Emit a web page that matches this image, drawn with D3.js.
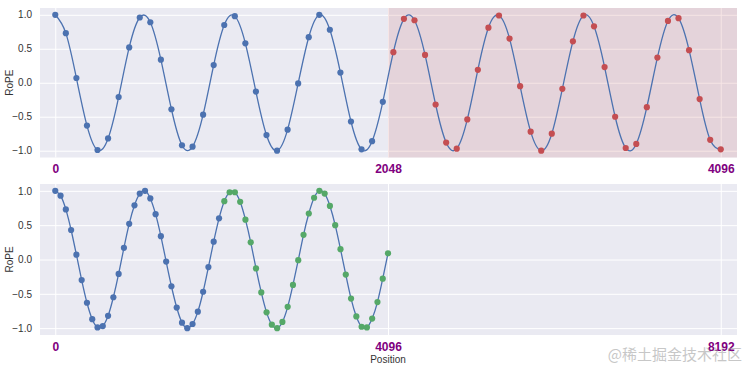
<!DOCTYPE html>
<html>
<head>
<meta charset="utf-8">
<script src="https://cdn.jsdelivr.net/npm/d3@7"></script>
<style>
    body { margin: 0; background: #fff; }
    svg { display: block; font-family: "Liberation Sans", Arial, sans-serif; }
    .grid line { stroke: #fff; stroke-width: 1; }
    .grid path { display: none; }
    .ylab text { fill: #333; font-size: 10px; }
    .xlab text { fill: #800080; font-size: 12px; font-weight: bold; }
</style>
</head>
<body>
<svg width="744" height="368"></svg>
<script>
// positions sampled (64 points between 0 and 4096)
const positions = [0, 65, 130, 195, 260, 325, 390, 455, 520, 585, 650, 715, 780, 845, 910, 975,
    1040, 1105, 1170, 1235, 1300, 1365, 1430, 1495, 1560, 1625, 1690, 1755, 1820, 1885, 1950, 2016,
    2081, 2146, 2211, 2276, 2341, 2406, 2471, 2536, 2601, 2666, 2731, 2796, 2861, 2926, 2991, 3056,
    3121, 3186, 3251, 3316, 3381, 3446, 3511, 3576, 3641, 3706, 3771, 3836, 3901, 3966, 4031, 4096];

// RoPE values, top panel (extrapolation)
const ropeTop = [1.00, 0.73, 0.07, -0.63, -0.99, -0.82, -0.21, 0.52,
    0.96, 0.89, 0.34, -0.39, -0.92, -0.94, -0.47, 0.26,
    0.85, 0.98, 0.58, -0.13, -0.77, -1.00, -0.69, -0.01,
    0.67, 1.00, 0.78, 0.15, -0.57, -0.98, -0.86, -0.28,
    0.45, 0.94, 0.92, 0.41, -0.32, -0.88, -0.97, -0.54,
    0.19, 0.81, 0.99, 0.65, -0.05, -0.72, -1.00, -0.75,
    -0.09, 0.61, 0.99, 0.83, 0.23, -0.50, -0.96, -0.90,
    -0.36, 0.37, 0.91, 0.95, 0.48, -0.24, -0.84, -0.98];

// RoPE values, bottom panel (interpolation)
const ropeBottom = [1.00, 0.93, 0.73, 0.43, 0.07, -0.30, -0.63, -0.87,
    -0.99, -0.97, -0.82, -0.55, -0.21, 0.17, 0.52, 0.79,
    0.96, 1.00, 0.89, 0.66, 0.34, -0.03, -0.39, -0.70,
    -0.92, -1.00, -0.94, -0.76, -0.47, -0.11, 0.26, 0.60,
    0.85, 0.98, 0.98, 0.84, 0.58, 0.25, -0.13, -0.48,
    -0.77, -0.95, -1.00, -0.91, -0.69, -0.37, -0.01, 0.36,
    0.67, 0.90, 1.00, 0.96, 0.78, 0.50, 0.15, -0.22,
    -0.57, -0.83, -0.98, -0.99, -0.86, -0.62, -0.28, 0.09];

const yTicks = [-1.0, -0.5, 0.0, 0.5, 1.0];
const xTicksTop = [0, 2048, 4096];
const xTicksBottom = [0, 4096, 8192];
const trainLength = 2048;

const svg = d3.select("svg");
const left = 40, right = 737;

function panel(opts) {
    const x = d3.scaleLinear().domain(opts.xDomain).range([left, right]);
    const y = d3.scaleLinear().domain([-1.1, 1.1]).range([opts.bottom, opts.top]);
    const g = svg.append("g");

    // background
    g.append("rect")
        .attr("x", left).attr("y", opts.top)
        .attr("width", right - left).attr("height", opts.bottom - opts.top)
        .attr("fill", "#EAEAF2");

    // grid
    g.append("g").attr("class", "grid")
        .attr("transform", `translate(0 ${opts.bottom})`)
        .call(d3.axisBottom(x).tickValues(opts.xTicks).tickSize(-(opts.bottom - opts.top)).tickFormat(""));
    g.append("g").attr("class", "grid")
        .attr("transform", `translate(${left} 0)`)
        .call(d3.axisLeft(y).tickValues(yTicks).tickSize(-(right - left)).tickFormat(""));

    // shaded region beyond training length
    if (opts.shade) {
        g.append("rect")
            .attr("x", x(trainLength)).attr("y", opts.top)
            .attr("width", right - x(trainLength)).attr("height", opts.bottom - opts.top)
            .attr("fill", "#C44E52").attr("opacity", 0.15);
    }

    const data = positions.map((p, i) => ({ pos: p, val: opts.values[i] }));

    g.append("path")
        .datum(data)
        .attr("fill", "none")
        .attr("stroke", "#4C72B0")
        .attr("stroke-width", 1.3)
        .attr("d", d3.line().x(d => x(d.pos)).y(d => y(d.val)).curve(d3.curveNatural));

    const color = d3.scaleThreshold().domain([trainLength]).range(["#4C72B0", opts.colorAfter]);
    g.append("g")
        .selectAll("circle")
        .data(data)
        .enter()
        .append("circle")
        .attr("cx", d => x(d.pos))
        .attr("cy", d => y(d.val))
        .attr("r", 3.1)
        .attr("fill", d => color(d.pos));

    // tick labels
    const yl = g.append("g").attr("class", "ylab")
        .attr("transform", `translate(${left} 0)`)
        .call(d3.axisLeft(y).tickValues(yTicks).tickSize(0).tickPadding(8)
            .tickFormat(d => d3.format(".1f")(d).replace("-", "\u2212")));
    yl.select(".domain").remove();

    const xl = g.append("g").attr("class", "xlab")
        .attr("transform", `translate(0 ${opts.bottom})`)
        .call(d3.axisBottom(x).tickValues(opts.xTicks).tickSize(0).tickPadding(7));
    xl.select(".domain").remove();
    xl.selectAll("text").text(d => d);

    g.append("text")
        .attr("transform", `translate(13 ${(opts.top + opts.bottom) / 2}) rotate(-90)`)
        .attr("text-anchor", "middle")
        .attr("fill", "#333")
        .style("font-size", "10px")
        .text("RoPE");
}

panel({ xDomain: [-94, 4196], top: 8, bottom: 157.5, xTicks: xTicksTop, values: ropeTop, shade: true, colorAfter: "#C44E52" });
panel({ xDomain: [-188, 8392], top: 184, bottom: 335, xTicks: xTicksBottom, values: ropeBottom, shade: false, colorAfter: "#55A868" });

svg.append("text")
    .attr("x", 388).attr("y", 363)
    .attr("text-anchor", "middle")
    .attr("fill", "#333")
    .style("font-size", "10px")
    .text("Position");

// watermark (overlaps the last tick label, as in the original)
svg.append("text")
    .attr("x", 742).attr("y", 360)
    .attr("text-anchor", "end")
    .attr("fill", "#9a9a9a")
    .attr("opacity", 0.55)
    .style("font-family", "'Noto Sans CJK SC', sans-serif")
    .style("font-size", "15px")
    .text("@稀土掘金技术社区");
</script>
</body>
</html>
